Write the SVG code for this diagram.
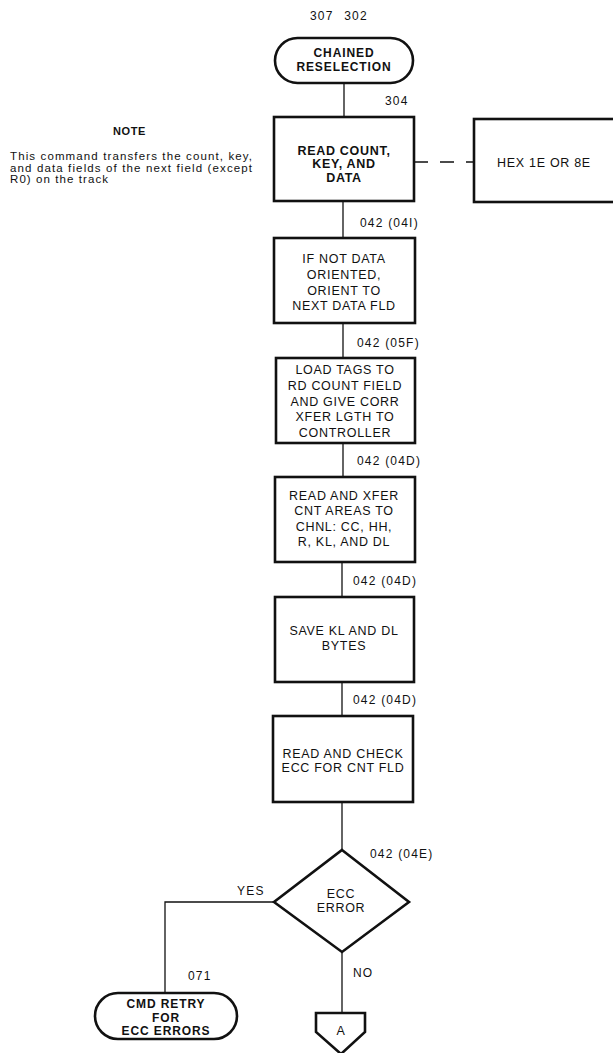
<svg xmlns="http://www.w3.org/2000/svg" width="613" height="1053" viewBox="0 0 613 1053">
  <style>
    .shape { fill: #fff; stroke: #111; stroke-width: 2.6; }
    .conn { fill: none; stroke: #111; stroke-width: 1.3; }
    .dash { stroke-dasharray: 14 12; }
    text { font-family: "Liberation Sans", Arial, sans-serif; fill: #111; }
    .bt { font-size: 12.5px; letter-spacing: 0.7px; text-anchor: middle; }
    .bb { font-size: 12px; font-weight: bold; letter-spacing: 0.9px; text-anchor: middle; }
    .lbl { font-size: 12px; letter-spacing: 1.2px; }
    .note { font-size: 11.5px; }
  </style>

  <!-- connectors -->
  <g id="connectors">
    <line class="conn" x1="344" y1="83" x2="344" y2="117"/>
    <line class="conn dash" x1="414" y1="162" x2="474" y2="162"/>
    <line class="conn" x1="343" y1="201" x2="343" y2="238"/>
    <line class="conn" x1="343" y1="323" x2="343" y2="358"/>
    <line class="conn" x1="343" y1="443" x2="343" y2="477"/>
    <line class="conn" x1="342" y1="562" x2="342" y2="597"/>
    <line class="conn" x1="342" y1="682" x2="342" y2="716"/>
    <line class="conn" x1="342" y1="802" x2="342" y2="850"/>
    <polyline class="conn" points="274,902 165,902 165,993"/>
    <line class="conn" x1="342" y1="952" x2="342" y2="1013"/>
  </g>

  <!-- labels along the flow -->
  <g id="labels">
    <text class="lbl" x="310" y="20" word-spacing="6">307 302</text>
    <text class="lbl" x="385" y="105">304</text>
    <text class="lbl" x="360" y="227">042 (04I)</text>
    <text class="lbl" x="357" y="347">042 (05F)</text>
    <text class="lbl" x="357" y="465">042 (04D)</text>
    <text class="lbl" x="353" y="585">042 (04D)</text>
    <text class="lbl" x="353" y="704">042 (04D)</text>
    <text class="lbl" x="370" y="858">042 (04E)</text>
    <text class="lbl" x="237" y="895">YES</text>
    <text class="lbl" x="353" y="977">NO</text>
    <text class="lbl" x="188" y="980">071</text>
  </g>

  <!-- note -->
  <g id="note">
    <text x="113" y="135" font-size="11" font-weight="bold" letter-spacing="0.6">NOTE</text>
    <text class="note" x="10" y="160" textLength="242" lengthAdjust="spacing">This command transfers the count, key,</text>
    <text class="note" x="10" y="171.5" textLength="242" lengthAdjust="spacing">and data fields of the next field (except</text>
    <text class="note" x="10" y="183" textLength="98" lengthAdjust="spacing">R0) on the track</text>
  </g>

  <g id="start">
    <rect class="shape" x="275" y="38" width="138" height="45" rx="22.5"/>
    <text class="bb" x="344" y="57">CHAINED</text>
    <text class="bb" x="344" y="70.5">RESELECTION</text>
  </g>

  <g id="read-ckd">
    <rect class="shape" x="274" y="117" width="140" height="84"/>
    <text class="bt" x="344" y="154.5" font-weight="bold">READ COUNT,</text>
    <text class="bt" x="344" y="168" font-weight="bold">KEY, AND</text>
    <text class="bt" x="344" y="181.5" font-weight="bold">DATA</text>
  </g>

  <g id="hex-codes">
    <rect class="shape" x="474" y="119" width="150" height="83"/>
    <text class="bt" x="544" y="167">HEX 1E OR 8E</text>
  </g>

  <g id="orient">
    <rect class="shape" x="274" y="238" width="141" height="85"/>
    <text class="bt" x="344" y="262.5">IF NOT DATA</text>
    <text class="bt" x="344" y="278.5">ORIENTED,</text>
    <text class="bt" x="344" y="294.5">ORIENT TO</text>
    <text class="bt" x="344" y="309.5">NEXT DATA FLD</text>
  </g>

  <g id="load-tags">
    <rect class="shape" x="276" y="358" width="139" height="85"/>
    <text class="bt" x="345" y="373.5">LOAD TAGS TO</text>
    <text class="bt" x="345" y="389.5">RD COUNT FIELD</text>
    <text class="bt" x="345" y="405.5">AND GIVE CORR</text>
    <text class="bt" x="345" y="420.5">XFER LGTH TO</text>
    <text class="bt" x="345" y="436.5">CONTROLLER</text>
  </g>

  <g id="xfer-count">
    <rect class="shape" x="275" y="477" width="140" height="85"/>
    <text class="bt" x="344" y="499.5">READ AND XFER</text>
    <text class="bt" x="344" y="514.5">CNT AREAS TO</text>
    <text class="bt" x="344" y="530.5">CHNL: CC, HH,</text>
    <text class="bt" x="344" y="545.5">R, KL, AND DL</text>
  </g>

  <g id="save-kl-dl">
    <rect class="shape" x="275" y="597" width="139" height="85"/>
    <text class="bt" x="344" y="634.5">SAVE KL AND DL</text>
    <text class="bt" x="344" y="649.5">BYTES</text>
  </g>

  <g id="check-ecc">
    <rect class="shape" x="273" y="716" width="140" height="86"/>
    <text class="bt" x="343" y="757.5">READ AND CHECK</text>
    <text class="bt" x="343" y="771.5">ECC FOR CNT FLD</text>
  </g>

  <g id="ecc-error">
    <polygon class="shape" points="342,850 409,902 342,952 274,902"/>
    <text class="bt" x="341" y="897.5" font-size="12">ECC</text>
    <text class="bt" x="341" y="912" font-size="12">ERROR</text>
  </g>

  <g id="cmd-retry">
    <rect class="shape" x="95" y="993" width="142" height="46" rx="23"/>
    <text class="bb" x="166" y="1008">CMD RETRY</text>
    <text class="bb" x="166" y="1021.5">FOR</text>
    <text class="bb" x="166" y="1035">ECC ERRORS</text>
  </g>

  <g id="offpage-a">
    <polygon class="shape" points="316,1013 365,1013 365,1032 341,1054 316,1032"/>
    <text class="bt" x="341" y="1034.5" font-size="12">A</text>
  </g>
</svg>
